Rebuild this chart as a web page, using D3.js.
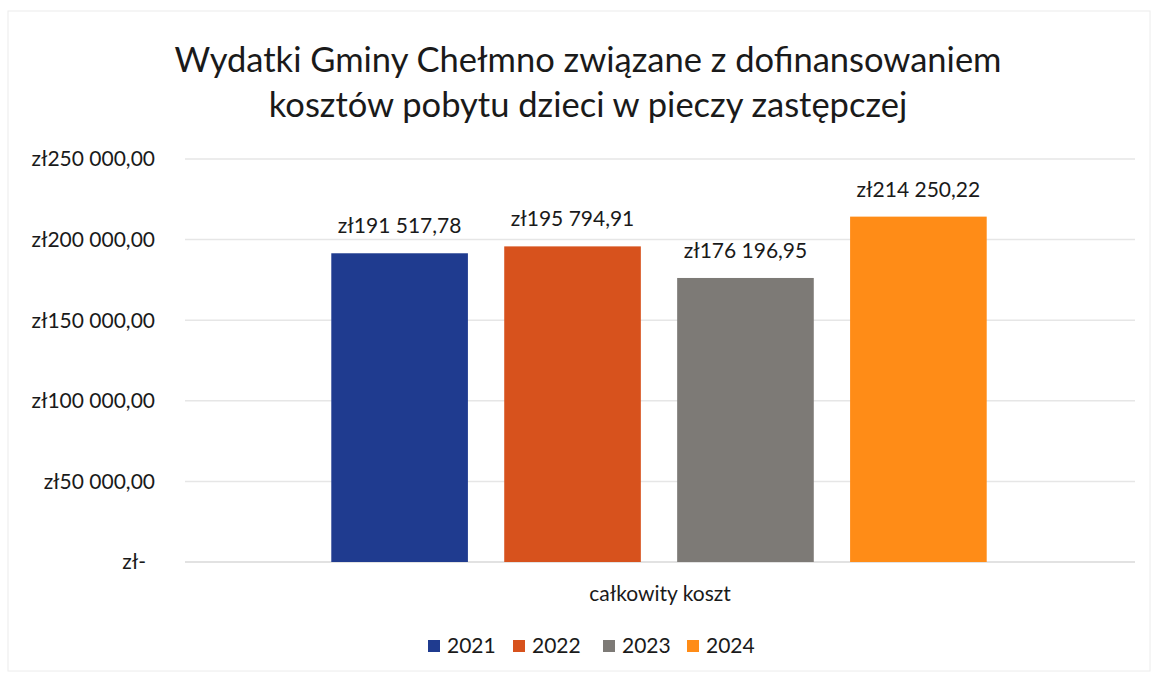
<!DOCTYPE html>
<html>
<head>
<meta charset="utf-8">
<script src="https://d3js.org/d3.v7.min.js"></script>
<style>
  body { margin: 0; background: #fff; }
  text { font-family: Lato, "Open Sans", sans-serif; fill: #1a1a1a; }
</style>
</head>
<body>
<div id="chart"></div>
<script>
var titleLines = ["Wydatki Gminy Chełmno związane z dofinansowaniem", "kosztów pobytu dzieci w pieczy zastępczej"];
var category = "całkowity koszt";
var years = ["2021", "2022", "2023", "2024"];
var values = [191517.78, 195794.91, 176196.95, 214250.22];
var colors = ["#1f3b8f", "#d7521d", "#7d7a76", "#ff8c17"];
var yTicks = [0, 50000, 100000, 150000, 200000, 250000];

var W = 1156, H = 678;
var svg = d3.select('#chart').append('svg')
    .attr('width', W).attr('height', H);

svg.append('rect')
    .attr('x', 8).attr('y', 11).attr('width', W - 14).attr('height', H - 18)
    .attr('fill', 'none').attr('stroke', '#ececec');

// polish-style number: 191 517,78
function plNum(v) {
  var parts = v.toFixed(2).split('.');
  var intPart = parts[0].replace(/\B(?=(\d{3})+(?!\d))/g, ' ');
  return 'zł' + intPart + ',' + parts[1];
}

var y = d3.scaleLinear().domain([0, 250000]).range([562, 159]);
var x = d3.scaleBand().domain(years).range([314, 1004]).paddingInner(0.21).paddingOuter(0.1);

// gridlines
svg.append('g').selectAll('line').data(yTicks).enter().append('line')
    .attr('x1', 185).attr('x2', 1135)
    .attr('y1', function(d) { return y(d); })
    .attr('y2', function(d) { return y(d); })
    .attr('stroke', function(d) { return d === 0 ? '#d9d9d9' : '#e6e6e6'; })
    .attr('stroke-width', 1.5);

// y labels
svg.append('g').selectAll('text').data(yTicks).enter().append('text')
    .attr('x', function(d) { return d === 0 ? 146 : 155; })
    .attr('y', function(d) { return y(d); })
    .attr('dy', '0.35em')
    .attr('text-anchor', 'end')
    .style('font-size', '21px')
    .text(function(d) { return d === 0 ? 'zł-' : plNum(d); });

// bars
svg.append('g').selectAll('rect').data(values).enter().append('rect')
    .attr('x', function(d, i) { return x(years[i]); })
    .attr('width', x.bandwidth())
    .attr('y', function(d) { return y(d); })
    .attr('height', function(d) { return y(0) - y(d); })
    .attr('fill', function(d, i) { return colors[i]; });

// data labels
svg.append('g').selectAll('text').data(values).enter().append('text')
    .attr('x', function(d, i) { return x(years[i]) + x.bandwidth() / 2; })
    .attr('y', function(d) { return y(d) - 20; })
    .attr('text-anchor', 'middle')
    .style('font-size', '21px')
    .text(function(d) { return plNum(d); });

// category label
svg.append('text')
    .attr('x', 660).attr('y', 601)
    .attr('text-anchor', 'middle')
    .style('font-size', '21px')
    .text(category);

// title
svg.append('g').selectAll('text').data(titleLines).enter().append('text')
    .attr('x', 588)
    .attr('y', function(d, i) { return 72 + i * 45; })
    .attr('text-anchor', 'middle')
    .style('font-size', '34.5px')
    .text(function(d) { return d; });

// legend
var legendX = [428, 513, 603, 687];
var lg = svg.append('g').selectAll('g').data(years).enter().append('g')
    .attr('transform', function(d, i) { return 'translate(' + legendX[i] + ',646)'; });
lg.append('rect').attr('x', 0).attr('y', -6).attr('width', 12).attr('height', 12)
    .attr('fill', function(d, i) { return colors[i]; });
lg.append('text').attr('x', 19).attr('dy', '0.35em')
    .style('font-size', '21px')
    .text(function(d) { return d; });
</script>
</body>
</html>
